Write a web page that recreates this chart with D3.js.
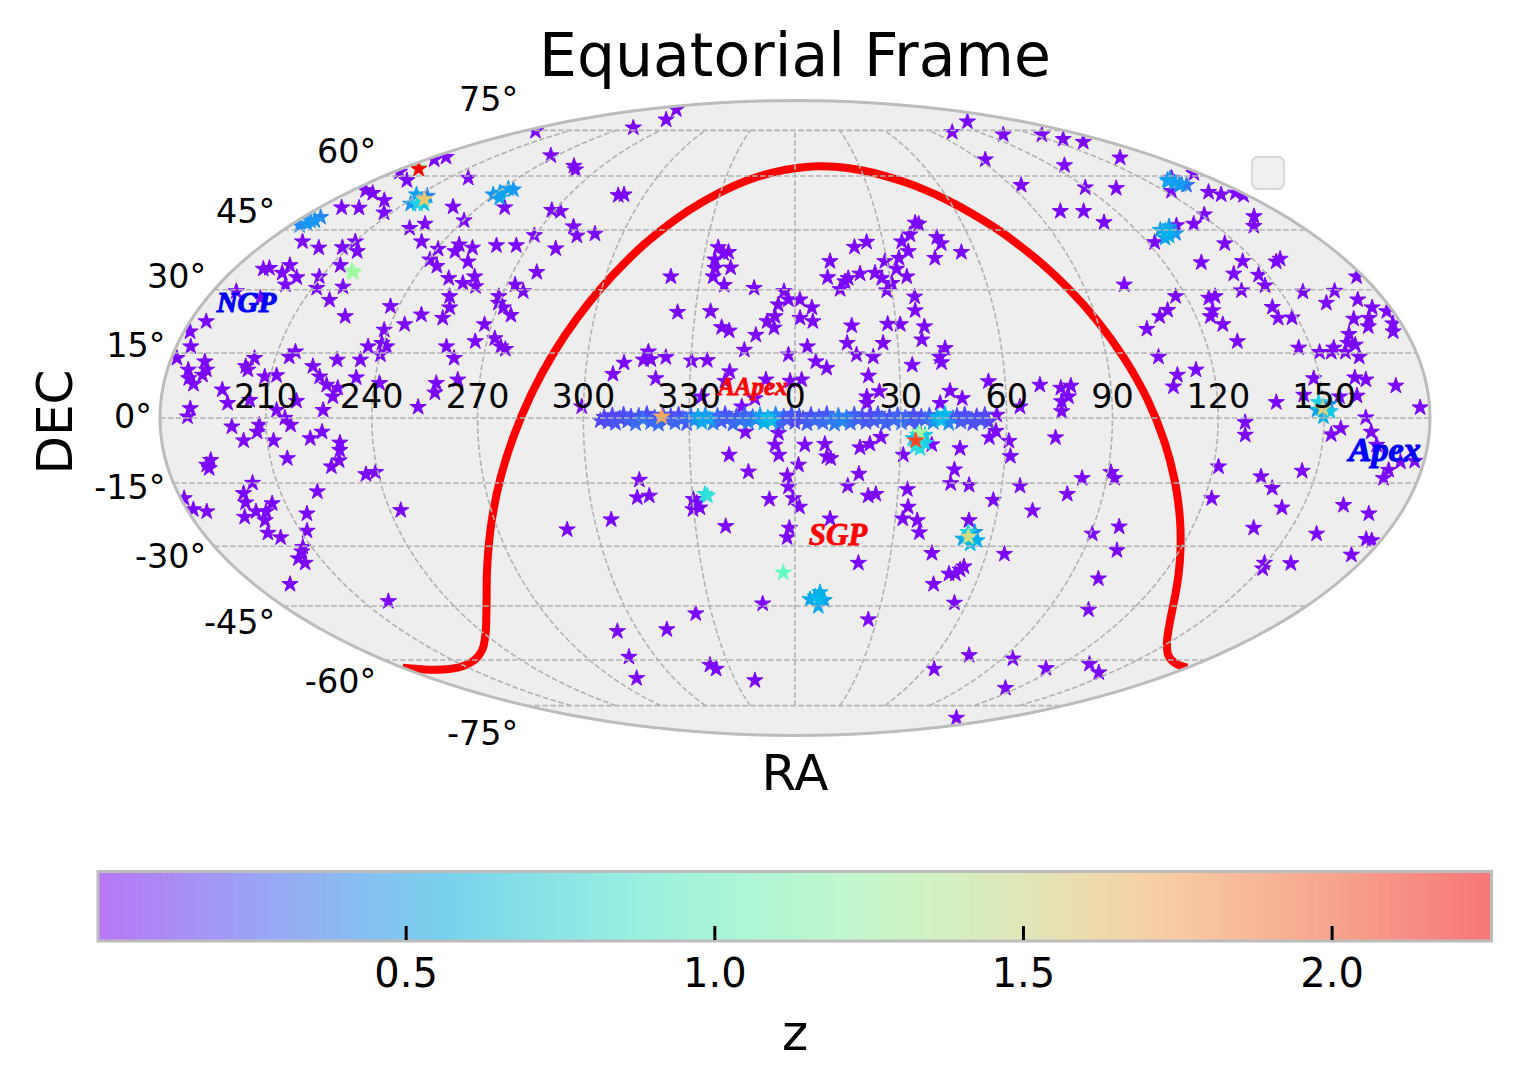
<!DOCTYPE html>
<html>
<head>
<meta charset="utf-8">
<title>Equatorial Frame</title>
<script src="https://cdn.jsdelivr.net/npm/d3@7"></script>
<style>
  body { margin: 0; background: #fff; }
  text { font-family: "DejaVu Sans", sans-serif; fill: #000; }
  .tag { font-family: "Liberation Serif", serif; font-style: italic; font-weight: bold; text-anchor: middle; }
</style>
</head>
<body>
<svg class="chart" width="1522" height="1090"></svg>
<script>
// [ra, dec] in degrees, ra wrapped to -180..180, all of them z ~ 0.02
var fieldStars = [
  [-175.2,22.4],[-178.2,20],[-175.8,16.5],[-178.4,13.8],[-174,11.1],[-170,13],[-168.8,11.1],[-169.5,9.9],[-171.5,7.8],[-173.2,9.1],
  [-163,6.5],[-161,3.4],[-171.5,2.2],[-172.2,.3],[-157.8,11.9],[-156,13.8],[-156.9,11.1],[-151.6,9.5],[-148.3,9.8],[-154.8,4.1],
  [-141.5,3.9],[-147,1.8],[-144.6,0],[-133.8,1.8],[-144.8,15.3],[-146.1,14.1],[-138.5,11.9],[-135.9,9.5],[-133.5,7.6],[-132,13.4],
  [-125.3,13.4],[-125.4,9.3],[-131.3,4.9],[-130.2,6.9],[-118.5,8],[-106.9,2.5],[-102.3,8],[-102.4,5.8],[-96.3,8.8],[-101.4,16.5],
  [-98.4,13.8],[-93.4,17.7],[-124.2,16.5],[-120.5,17.3],[-118.8,16.5],[-119.9,14.6],[-121.2,20.4],[-115.8,21.7],[-112,24],[-105.2,23.2],
  [-104.4,25.7],[-106,28.4],[-122.5,26],[-134.6,23.6],[-142.1,27.5],[-140.7,30.7],[-148.6,30.4],[-150.6,33.2],[-147,36],[-169,35.3],
  [-170.7,35.1],[-163.3,36],[-163.4,34.1],[-157.5,33],[-159.1,31.2],[-167.9,42],[-159.9,40.4],[-152.1,40.5],[-149.9,42],[-145.8,39.5],
  [-136.3,45.5],[-132.5,46.6],[-127.3,42],[-119.5,40.1],[-119.4,37.4],[-115.6,35.8],[-113.6,41.2],[-113.2,39.5],[-108.3,40.4],[-106.5,36.9],
  [-109.3,32.8],[-104,31.6],[-101.4,33.2],[-99.5,30.8],[-129.8,51.2],[-119.8,47.5],[-141.5,59.4],[-165.9,58.7],[-177.4,61.2],[-176,65],
  [-173.6,65.8],[-171.6,51],[-164.8,50.9],[-174.6,55.8],[-169.5,55],[-159.9,53],[-152.7,49.6],[-172.7,29.6],[-163.7,28],
  [-159.7,-2],[-151.9,-1.6],[-152.6,-3.2],[-156.7,-5.2],[-148.2,-5.2],[-143,-1.6],[-137.7,-4.7],[-134.2,-3.2],[-129.4,-5.7],[-129.7,-7.4],
  [-130.4,-9.8],[-133,-11.2],[-123.6,-13],[-120.7,-12.5],[-145.1,-9.3],[-167.1,-9.7],[-168.2,-11.6],[-168.6,-10.8],[-157.1,-15],[-139.2,-17],
  [-160.9,-17.4],[-161.6,-19.6],[-179,-18.6],[-178.1,-21.2],[-174.5,-21.7],[-153.9,-19.8],[-164.2,-23],[-159.9,-21.7],[-156.9,-21.7],[-158.7,-23.8],
  [-145.1,-22.2],[-148,-26.3],[-160.3,-26.8],[-157.4,-27.9],[-152.7,-30.2],[-157,-33],[-156.1,-34.1],[-154.1,-31.3],[-168,-39.4],[-141.2,-43.8],[-116.8,-21.4],
  [-142.7,83.9],[-106.6,79.2],[-113.2,76],[-171.7,74.7],[-123,66.3],[-103,63],[-99.9,61.9],[-109.9,51],[-91.2,50.3],[-87.6,50],
  [-70.3,54.4],[-68.2,54.6],[-78.7,45.9],[-75.5,43.5],[-69.6,44],[-90.3,43.6],[-100.8,41],[-94.1,41],[-80.2,40.2],[-82.4,34.3],
  [-87.4,31.2],[-84,29.6],[-90.9,28.4],[-90.2,26.8],[-88.2,25.7],[-85.1,23.9],[-92.1,21.7],[-87.9,18.4],[-85.6,16.5],[-84.1,15.9],
  [-39.3,33.2],[-25.8,40.5],[-22.1,39.3],[-23.7,39],[-26.2,37.4],[-25.7,35.3],[-20.7,35.4],[-25.9,33.2],[-22.1,31.1],[-12.7,30.4],
  [-3.4,29.6],[-5.1,26.4],[-2,27.6],[-6,23.6],[-8.3,22.4],[-6.2,20.9],[-11.5,19.2],[-14.7,15.7],[-1.9,14.6],[-35.3,24.6],
  [-25.4,24.8],[-21.7,21],[-19.4,20.2],[-42.5,15.3],[-43.7,13.4],[-41.6,13.5],[-37.3,14],[-29.8,13.2],[-25.3,13.3],[-49.2,12.7],
  [-52.1,10.1],[-39.8,9.1],[-18.7,10.7],[-20,8.5],[-8.3,8.8],[-1.4,8.5],[-11.4,4.5],[-15.1,2.6],[-60.5,2.6],[-26.5,4.9],
  [-14.1,-3.2],[-4.7,-3.5],[-5.7,-6.2],[-4.6,-8.5],[-18.8,-8.5],[-13.4,-12.4],[-2.2,-13.3],[1,-10.8],[-1.9,-15.9],[-.5,-18.6],
  [1.3,-20.6],[-7.5,-18.8],[-45,-14.3],[-46.2,-18.4],[-42.6,-18],[-29.8,-18.8],[-30.2,-21.2],[-28.1,-20.8],[-28.9,-19.7],[-20.9,-25.2],
  [-55,-23.6],[-69,-26],[-1.7,-25.6],[-2.4,-27.9],[-11.3,-44.4],[-35.7,-47],[-48.7,-51.3],[-68,-51.8],[-71.5,-59.1],[-78.4,-65.6],
  [-38.4,-61.5],[-36.5,-62.7],[-20.2,-66.3],
  [136.2,78.4],[102.3,74.3],[130.8,73.4],[155.1,73.4],[159,71.8],[165.3,70.8],[160.9,65.6],[92.8,65],[126.1,63.2],[94.3,57.3],
  [119.6,56.6],[131.9,56.4],[99.1,50],[107.8,50],[111.2,47],[43.2,46.9],[44.3,46.6],[39.9,43.8],[36.4,42],[48.9,43.1],
  [49.6,41.5],[45.9,37.8],[55.3,39.3],[24.4,41.9],[20,40.6],[11.4,37],[10.3,33],[14,30.1],[15.7,32],[16.8,32.8],
  [20.7,33.9],[25.5,34.1],[29.3,37],[27.4,32.8],[28.4,29.8],[30.3,31.6],[32.6,35.1],[34.1,37.8],[37.7,39.5],[35.4,33.2],
  [36.7,28.3],[36.2,25],[27.5,21.8],[31.2,21.7],[38.3,21.2],[37.1,18.1],[43.6,16.1],[41.8,14.1],[42.2,12.8],[25.7,17.3],
  [16.8,21.4],[15.2,17.3],[17.8,14.6],[22.6,14.1],[33.7,12.2],[21,9.7],[5.1,25.7],[5.3,22.4],[1.5,27.6],[1.5,23.2],
  [3.6,16.5],[6,13],[9.1,11.5],[1.9,8.8],[20.4,4.9],[24,6.1],[20.4,3.4],[44.1,6.2],[47.5,4.5],[41.2,3.4],
  [55.2,8.4],[69.8,7.6],[75.7,6.9],[78.6,7.4],[77.7,4.9],[75.7,3.8],[75.6,1.5],[63.8,2.6],[57.2,.7],
  [38.9,-6.1],[47,-7],[55.2,-4.5],[57,-3],[60.8,-5.3],[61.5,-8.8],[74,-4.5],[2.8,-6.2],[8.5,-6],[9.1,-8.9],
  [10.2,-9.3],[18.5,-6.8],[21.3,-6],[24.4,-4.4],[30.9,-8.5],[18.4,-12.9],[15.3,-15.7],[21.4,-18],[23.6,-17.6],[32.7,-16.5],
  [33.4,-20.6],[32.2,-23.4],[36.6,-23.8],[37.8,-26.7],[10.5,-23.4],[20.2,-34.1],[42.9,-31.7],[45.8,-11.9],[45.1,-15.1],[50.5,-15.5],
  [65.3,-15.7],[58.2,-19],[70.4,-21.5],[79.5,-17.6],[82.9,-13.9],[90.9,-12.5],[92.3,-13.9],[97.8,-25.3],[100.4,-31],[90.5,-27],
  [99.7,-38],[104.4,-46],[65.7,-31.9],[52.1,-23.8],[54.2,-35],[53.3,-35.8],[50.1,-36.8],[52.2,-36.8],[46.1,-39.4],[55.6,-44.2],
  [26.9,-48.6],[74.3,-58.6],[64.4,-62.7],[94.7,-59.6],[115.7,-62.5],[132.1,-61.2],[144.1,-63.8],[113.5,-68.8],[139.5,-79.9],
  [163.1,59.4],[152.6,55.6],[177.5,60.8],[166.8,55.3],[170,54.6],[177.1,55.1],[178.4,54.4],[151.1,49.1],[142.8,46.6],[168.4,48.6],
  [163.2,46],[136,46.2],[122.4,41.8],[145.8,41.5],[132.1,36.7],[145.9,37],[139.6,33.9],[156.7,36.9],[158.9,37.6],[147.2,33.6],
  [146.6,31],[138.2,29.8],[156.9,29.5],[166.9,29.7],[177.8,33.2],[161.6,26.8],[171.9,27.6],[174.5,25.7],[178.1,24.8],[177.5,21.9],
  [176.2,20],[171.4,23.2],[169.7,21.2],[166.7,23],[162.8,19.4],[161.3,17.3],[163.2,16.9],[163,14.1],[159.5,15.2],[156.6,16.2],
  [155.4,15.2],[152,15.2],[146.4,16.2],[144.4,25.8],[144.3,23.2],[148.5,23.3],[129.2,17.7],[126.9,21.7],[124.3,23.6],[125.8,25],
  [126.7,28],[128.9,28.4],[116.8,28.4],[112.3,25.1],[109.1,23.6],[103.9,20.6],[102.8,31.2],[105,14.1],[115,11.1],[109.4,9.9],
  [107.8,7.2],[136.6,3.6],[148.2,9.1],[144.6,5.3],[154.7,4.9],[160,9.3],[163,8.8],[159.7,5.1],[171.2,7.4],[177.3,2.4],
  [161.8,.1],[127.6,-1],[127.8,-3.9],[154.8,-2.4],[152.2,-3.8],[163.5,-3.2],[165.5,-6.2],[173.3,-10.1],[177.3,-9.9],[170.6,-12],
  [169.9,-13.9],[121.5,-11.2],[122.1,-18.6],[134.4,-13.5],[138.7,-16.2],[145.8,-12.2],[143.9,-20.8],[138.6,-25.6],[158.8,-27],[161.7,-20.2],
  [170.6,-22.2],[175.2,-28.3],[177.2,-28.6],[174.8,-32.1],[149.6,-34.1],[150.6,-35.5],[158.1,-34.2]
];

// the strip along the celestial equator, [ra, dec, z]
var bandStars = [
  [-55.2,-.6,.2],[-54.1,.2,.18],[-53,-.9,.22],[-51.8,.6,.2],[-50.9,-1.2,.24],[-49.7,-.1,.19],[-48.6,.8,.22],[-47.4,-.7,.27],[-46.5,.3,.2],[-45.2,-1.3,.3],
  [-44.3,.5,.25],[-43.1,-.3,.33],[-42,.9,.21],[-40.9,-1,.3],[-39.8,.1,.26],[-38.7,-1.4,.32],[-37.4,.7,.23],[-36.3,-.5,.28],[-35.2,.4,.22],[-34,-1.1,.3],
  [-33,.8,.2],[-31.8,-.2,.3],[-30.7,-1.3,.26],[-29.6,.6,.32],[-28.6,-.6,.42],[-27.5,.3,.5],[-26.4,-1,.52],[-25.4,.7,.46],[-24.3,-.3,.5],[-23.2,-1.2,.36],
  [-22,.5,.3],[-20.9,-.8,.26],[-19.8,.9,.22],[-18.7,-.1,.28],[-17.6,-1.4,.3],[-16.6,.4,.24],[-15.4,-.6,.34],[-14.3,.8,.28],[-13.2,-1,.36],[-12,.2,.32],
  [-11,-.4,.42],[-9.9,.6,.46],[-8.8,-1.1,.55],[-7.7,.1,.6],[-6.6,-.7,.58],[-5.5,.8,.4],[-4.4,-1.3,.3],[-3.2,.3,.26],[-2.2,-.5,.22],[-1,.9,.25],
  [0,-1,.2],[1.2,.4,.24],[2.3,-.2,.22],[3.4,-1.3,.27],[4.5,.7,.23],[5.6,-.6,.3],[6.8,.2,.26],[7.9,-1.1,.32],[9,.9,.24],[10.1,-.3,.34],
  [11.2,-1.4,.36],[12.3,.5,.38],[13.4,-.8,.4],[14.6,.1,.36],[15.7,-1.2,.3],[16.8,.8,.26],[17.9,-.4,.28],[19,.3,.22],[20.1,-1,.25],[21.2,.6,.21],
  [22.4,-.7,.26],[23.5,.9,.22],[24.6,-.2,.3],[25.7,-1.3,.28],[26.8,.4,.24],[28,-.5,.3],[29.1,.7,.27],[30.2,-1.1,.33],[31.3,.1,.29],[32.4,-.7,.24],
  [33.6,.8,.21],[34.7,-1.4,.26],[35.8,.3,.22],[36.9,-.4,.3],[38.1,.6,.28],[39.2,-1,.42],[40.3,.2,.55],[41.4,-.6,.6],[42.5,.9,.58],[43.6,-1.2,.4],
  [44.8,-.1,.27],[45.9,.5,.22],[47,-.9,.26],[48.1,.8,.2],[49.3,-.3,.25],[50.4,-1.3,.22],[51.5,.4,.2],[52.7,-.6,.24],[53.8,.7,.2],[54.9,-.9,.18]
];

// tight groups at redshift, drawn sorted by z so the rare high z ones stay on top
var clumpStars = [
  [-176.6,46.2,.42],[-174.7,46.6,.46],[-173.8,47.5,.45],[-173.6,48.4,.4],[-175.2,47.4,.44],
  [-147.5,52,.45],[-151,54.6,.5],[-145.8,54.2,.4],[-142.4,52,.65],[-144.9,52,.7],[-145,53.3,1.6],
  [-174,62.6,1.2],[-172,62.1,2.25],[-141.7,34.6,1.25],[-140.8,34.2,1.28],
  [-120.4,54.6,.45],[-118.6,55.1,.5],[-117.5,56.3,.48],[-114.9,56,.46],[-116.2,53.7,.5],[-37.8,.3,1.75],
  [-26.3,-17.6,.75],[-25.6,-18,.78],[-3.8,-36.5,1],
  [6.9,-42.6,.55],[10.1,-43.5,.5],[8.2,-45.1,.52],[8.5,-41.5,.55],[5.2,-43.3,.52],[8.3,-43.2,.58],
  [33.6,-4.7,.6],[36.9,-3.9,.65],[35.6,-7,.72],[37,-5.8,.68],[34.2,-6.6,.75],[34.7,-3.9,.75],[35.3,-3.3,1.3],[34.3,-5.2,2.05],
  [51.5,-28.2,.52],[54.6,-26.6,.45],[54.1,-29.4,.6],[55.9,-28.6,.55],[52.6,-26.6,.7],[53,-27.7,1.5],
  [130.3,44.4,.55],[128.5,45,.5],[132.9,45.9,.45],[132.6,44.1,.45],[127.3,42.9,.5],[130,44.8,.55],[129.5,43.5,.52],
  [158.7,58.4,.5],[160.3,58,.48],[163.3,57.3,.35],[159.5,58.8,.45],[161.8,59.2,.42],[162,57.6,.4],[160.5,57.4,.47],
  [148,1.8,.5],[151.6,3.2,.45],[149.8,.3,.55],[151.7,1.5,.65],[148.6,3.6,.7],[149.7,2.2,1.55]
];

// red outline, read along the curve from its left end to its right end
var curveRa = [-180,-170,-160,-150,-140,-130,-120,-110,-100,-95,-90,-85,-80,-75,-70,-65,-60,-55,-50,-40,-30,-20,-10,0,10,20,30,40,50,60,70,75,80,85,90,95,100,105,110,115,120,125,130,140,150,160,170,180];
var curveDec = [-62.3,-62.9,-62.7,-61.7,-59.9,-57.1,-52.7,-46.2,-36.5,-30.1,-22.5,-13.8,-4.4,5.4,14.8,23.3,30.7,37,42.3,50.1,55.3,58.8,61,62.3,62.9,62.7,61.7,59.9,57.1,52.7,46.2,41.8,36.5,30.1,22.5,13.8,4.4,-5.4,-14.8,-23.3,-30.7,-37,-42.3,-50.1,-55.3,-58.8,-61,-62.3];

var raTicks = [-150,-120,-90,-60,-30,0,30,60,90,120,150];
var raLabels = ["210","240","270","300","330","0","30","60","90","120","150"];
var decTicks = [-75,-60,-45,-30,-15,0,15,30,45,60,75];
var zTicks = [0.5,1.0,1.5,2.0];
var zRange = [0.0016,2.259];

var tags = [
  {text:"NGP", ra:-167, dec:27, color:"#0000ff", size:29, bold:1.2},
  {text:"SGP", ra:13.1, dec:-27.3, color:"#ff0000", size:31, bold:0.8},
  {text:"Apex", ra:168, dec:-7.2, color:"#0000ff", size:34, bold:1.2},
  {text:"AApex", ra:-12, dec:7.3, color:"#ff0000", size:25, bold:0.8}
];

// Mollweide is not in d3 core
function mollweideRaw(lambda, phi) {
  var theta = phi;
  for (var i = 0; i < 30; i++) {
    var delta = (theta + Math.sin(theta) - Math.PI * Math.sin(phi)) / (1 + Math.cos(theta));
    theta -= delta;
    if (Math.abs(delta) < 1e-7) break;
  }
  theta = theta / 2;
  return [2 * Math.SQRT2 / Math.PI * lambda * Math.cos(theta), Math.SQRT2 * Math.sin(theta)];
}
var projection = d3.geoProjection(mollweideRaw).scale(224.5).translate([795,418]).precision(0.1);
var path = d3.geoPath(projection);
var chart = d3.select(".chart");

function rainbow(x) {
  return [Math.min(1, Math.abs(2*x - 0.5)), Math.sin(x*Math.PI), Math.cos(x*Math.PI/2)];
}
var zNorm = d3.scaleLinear().domain(zRange).range([0,1]).clamp(true);
function zColor(z) {
  var c = rainbow(zNorm(z));
  return d3.rgb(255*c[0],255*c[1],255*c[2]).formatHex();
}

chart.append("clipPath").attr("id","globe").append("path").datum({type:"Sphere"}).attr("d",path);
chart.append("path").datum({type:"Sphere"}).attr("d",path).attr("fill","#eeeeee");

var plot = chart.append("g").attr("clip-path","url(#globe)");

var stars = fieldStars.map(function(d) { return [d[0],d[1],0.02]; }).concat(bandStars, clumpStars);
stars.sort(function(a,b) { return a[2]-b[2]; });
var star = d3.symbol().type(d3.symbolStar).size(82);
plot.selectAll("path.star").data(stars).enter().append("path")
  .attr("class","star")
  .attr("d",star)
  .attr("fill",function(d) { return zColor(d[2]); })
  .attr("stroke",function(d) { return zColor(d[2]); })
  .attr("stroke-width",1)
  .attr("transform",function(d) { return "translate(" + projection([d[0],d[1]]) + ")"; });

var curveLine = d3.line().curve(d3.curveCatmullRom.alpha(0.5));
plot.append("path")
  .attr("d",curveLine(curveRa.map(function(ra,i) { return projection([ra,curveDec[i]]); })))
  .attr("fill","none").attr("stroke","#ff0000").attr("stroke-width",8);

// grid goes over the marks in the reference
var gridLine = d3.line();
var grid = plot.append("g").attr("fill","none").attr("stroke","#b2b2b2").attr("stroke-width",1.6).attr("stroke-dasharray","5.5,2.5");
decTicks.forEach(function(dec) {
  grid.append("path").attr("d",gridLine([projection([-180,dec]),projection([180,dec])]));
});
raTicks.forEach(function(ra) {
  grid.append("path").attr("d",gridLine(d3.range(-75,76,3).map(function(dec) { return projection([ra,dec]); })));
});

chart.append("path").datum({type:"Sphere"}).attr("d",path).attr("fill","none").attr("stroke","#bcbcbc").attr("stroke-width",3);

chart.selectAll("text.ra").data(raTicks).enter().append("text")
  .attr("class","ra")
  .attr("x",function(d) { return projection([d,0])[0]; })
  .attr("y",408)
  .attr("text-anchor","middle")
  .attr("font-size",33.4)
  .text(function(d,i) { return raLabels[i]; });

chart.selectAll("text.dec").data(decTicks).enter().append("text")
  .attr("class","dec")
  .attr("x",function(d) { return projection([-180,d])[0] - 8; })
  .attr("y",function(d) { return projection([-180,d])[1] - 2 - d*0.39; })
  .attr("dy",".36em")
  .attr("text-anchor","end")
  .attr("font-size",33.4)
  .text(function(d) { return d + "°"; });

chart.selectAll("text.tag").data(tags).enter().append("text")
  .attr("class","tag")
  .attr("x",function(d) { return projection([d.ra,d.dec])[0]; })
  .attr("y",function(d) { return projection([d.ra,d.dec])[1]; })
  .attr("dy",".33em")
  .attr("font-size",function(d) { return d.size; })
  .style("fill",function(d) { return d.color; })
  .attr("stroke",function(d) { return d.color; })
  .attr("stroke-width",function(d) { return d.bold; })
  .text(function(d) { return d.text; });

// empty legend
chart.append("rect").attr("x",1252).attr("y",157).attr("width",32).attr("height",32).attr("rx",6)
  .attr("fill","#f0f0f0").attr("stroke","#d8d8d8").attr("stroke-width",2);

chart.append("text").attr("x",795).attr("y",76).attr("text-anchor","middle").attr("font-size",60).text("Equatorial Frame");
chart.append("text").attr("x",795).attr("y",790).attr("text-anchor","middle").attr("font-size",50).text("RA");
chart.append("text").attr("transform","translate(72,422) rotate(-90)").attr("text-anchor","middle").attr("font-size",50).text("DEC");

// colorbar, half transparent over the grey of the style
var zScale = d3.scaleLinear().domain(zRange).range([98,1491.5]);
var cb = chart.append("g");
var steps = d3.range(256);
var stepWidth = (zScale.range()[1]-zScale.range()[0])/256;
cb.selectAll("rect").data(steps).enter().append("rect")
  .attr("x",function(d) { return 98 + d*stepWidth; })
  .attr("y",871.5)
  .attr("width",stepWidth+0.6)
  .attr("height",69.5)
  .attr("fill",function(d) { var c = rainbow(d/255); return d3.rgb(127.5*c[0]+119,127.5*c[1]+119,127.5*c[2]+119).formatHex(); });
cb.append("rect").attr("x",98).attr("y",871.5).attr("width",1393.5).attr("height",69.5)
  .attr("fill","none").attr("stroke","#bcbcbc").attr("stroke-width",3);

var zAxis = d3.axisBottom(zScale).tickValues(zTicks).tickSize(-14).tickPadding(0).tickFormat(d3.format(".1f"));
var zAxisG = chart.append("g").attr("transform","translate(0,940)").call(zAxis);
zAxisG.select(".domain").remove();
zAxisG.selectAll("line").attr("stroke","#000").attr("stroke-width",3);
zAxisG.selectAll("text").attr("y",47).attr("dy",0).attr("font-size",40).attr("font-family","DejaVu Sans");

chart.append("text").attr("x",795).attr("y",1050).attr("text-anchor","middle").attr("font-size",50).text("z");
</script>
</body>
</html>
